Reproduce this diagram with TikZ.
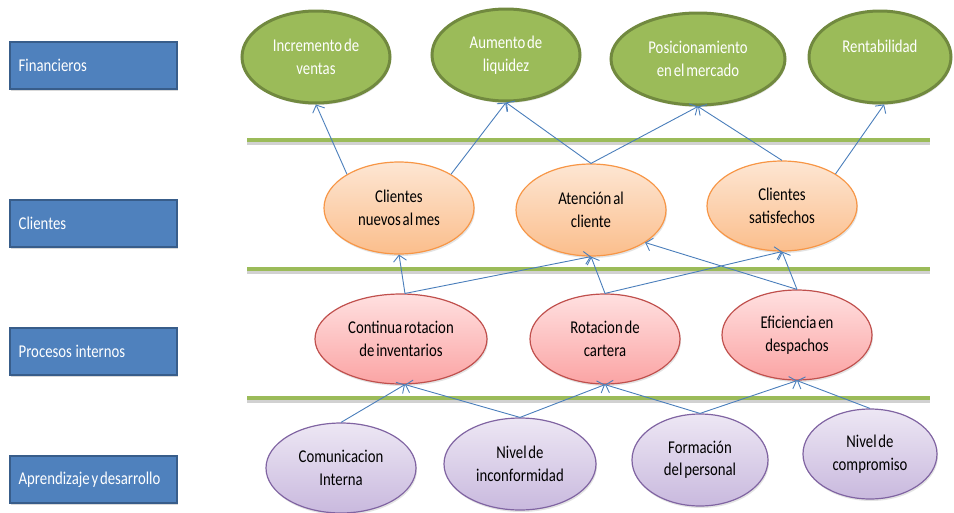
\documentclass[tikz,border=0pt]{standalone}
\usepackage{fontspec}
\setmainfont{Carlito}[FakeStretch=0.82,WordSpace=0.55]
\usetikzlibrary{shapes.geometric,arrows.meta,shadows}
\definecolor{boxblue}{HTML}{4F81BD}
\definecolor{boxedge}{HTML}{385D8A}
\definecolor{fingreen}{HTML}{9BBB59}
\definecolor{fingreenedge}{HTML}{71893F}
\definecolor{orfillA}{HTML}{FDE6D3}
\definecolor{orfillB}{HTML}{FBBE8C}
\definecolor{oredge}{HTML}{F79646}
\definecolor{rdfillA}{HTML}{FFE0E0}
\definecolor{rdfillB}{HTML}{FBA4A4}
\definecolor{rdedge}{HTML}{C0504D}
\definecolor{pufillA}{HTML}{EDE7F4}
\definecolor{pufillB}{HTML}{C9B9DE}
\definecolor{puedge}{HTML}{8064A2}
\definecolor{arrowblue}{HTML}{4A7EBB}
\begin{document}
\begin{tikzpicture}[x=1pt,y=-1pt,
  font=\fontsize{18}{22.5}\selectfont,
  ell/.style={ellipse, inner sep=0pt, align=center,
    drop shadow={opacity=0.22,shadow xshift=1pt,shadow yshift=-2pt}},
  fin/.style={ell, fill=fingreen, draw=fingreenedge, line width=3pt, text=white},
  cli/.style={ell, top color=orfillA, bottom color=orfillB, draw=oredge, line width=1.2pt, text=black},
  pro/.style={ell, top color=rdfillA, bottom color=rdfillB, draw=rdedge, line width=1.2pt, text=black},
  apr/.style={ell, top color=pufillA, bottom color=pufillB, draw=puedge, line width=1.2pt, text=black},
  box/.style={rectangle, fill=boxblue, draw=boxedge, line width=2pt,
    minimum width=167pt, minimum height=47pt, inner sep=0pt,
    drop shadow={opacity=0.3,shadow xshift=0.5pt,shadow yshift=-2pt}},
  boxtext/.style={anchor=west, text=white, inner sep=0pt},
  sep/.style={draw=fingreen, line width=4pt},
  sepshadow/.style={draw=black, opacity=0.18, line width=4pt},
  conn/.style={draw=arrowblue, line width=0.9pt, -{Straight Barb[length=6pt,width=13pt]}}
]
\useasboundingbox (0,0) rectangle (954,512);

% left category boxes
\node[box] (bfin) at (93.5,65.5) {};
\node[box] (bcli) at (93.5,223.5) {};
\node[box] (bpro) at (93.5,351.5) {};
\node[box] (bapr) at (93.5,479.5) {};
\node[boxtext] (tfin) at (18.5,65.5) {Financieros};
\node[boxtext] (tcli) at (18.5,223.5) {Clientes};
\node[boxtext] (tpro) at (18.5,351.5) {Procesos\ \ internos};
\node[boxtext] (tapr) at (18.5,479.5) {Aprendizaje y desarrollo};

% separator lines
\draw[sepshadow] (247,142.5) -- (930,142.5);
\draw[sep] (247,140) -- (930,140);
\draw[sepshadow] (247,271.5) -- (930,271.5);
\draw[sep] (247,269) -- (930,269);
\draw[sepshadow] (247,400.5) -- (930,400.5);
\draw[sep] (247,398) -- (930,398);

% financial
\node[fin, minimum width=148pt, minimum height=92pt] (inc) at (316,57) {Incremento de\\ventas};
\node[fin, minimum width=148pt, minimum height=92pt] (aum) at (506,55) {Aumento de\\liquidez};
\node[fin, minimum width=174pt, minimum height=92pt] (pos) at (698,59) {Posicionamiento\\en el mercado};
\node[fin, minimum width=142pt, minimum height=92pt] (ren) at (880,57) {Rentabilidad\\\phantom{X}};

% clients
\node[cli, minimum width=150pt, minimum height=92pt] (cnm) at (399,208) {Clientes\\nuevos al mes};
\node[cli, minimum width=150pt, minimum height=92pt] (ate) at (591,210) {Atención al\\cliente};
\node[cli, minimum width=150pt, minimum height=90pt] (csa) at (782,206) {Clientes\\satisfechos};

% internal processes
\node[pro, minimum width=172pt, minimum height=90pt] (cri) at (401,339) {Continua rotacion\\de inventarios};
\node[pro, minimum width=150pt, minimum height=90pt] (rca) at (605,339) {Rotacion de\\cartera};
\node[pro, minimum width=150pt, minimum height=90pt] (efi) at (797,335) {Eficiencia en\\despachos};

% learning
\node[apr, minimum width=150pt, minimum height=90pt] (com) at (341,468) {Comunicacion\\Interna};
\node[apr, minimum width=152pt, minimum height=92pt] (nin) at (520,464) {Nivel de\\inconformidad};
\node[apr, minimum width=136pt, minimum height=92pt] (fpe) at (700,460) {Formación\\del personal};
\node[apr, minimum width=134pt, minimum height=90pt] (nco) at (870,454) {Nivel de\\compromiso};

% connectors
\draw[conn] (cnm.147) -- (inc.south);
\draw[conn] (cnm.33) -- (aum.south);
\draw[conn] (ate.north) -- (aum.south);
\draw[conn] (ate.north) -- (pos.south);
\draw[conn] (csa.north) -- (pos.south);
\draw[conn] (csa.31) -- (ren.-85);
\draw[conn] (cri.85) -- (cnm.south);
\draw[conn] (cri.85) -- (ate.south);
\draw[conn] (rca.north) -- (ate.south);
\draw[conn] (rca.north) -- (csa.south);
\draw[conn] (efi.north) -- (csa.south);
\draw[conn] (efi.north) -- (ate.-31);
\draw[conn] (com.north) -- (cri.-85);
\draw[conn] (nin.north) -- (cri.-85);
\draw[conn] (nin.north) -- (rca.south);
\draw[conn] (fpe.north) -- (rca.south);
\draw[conn] (fpe.north) -- (efi.south);
\draw[conn] (nco.north) -- (efi.south);
\end{tikzpicture}
\end{document}
